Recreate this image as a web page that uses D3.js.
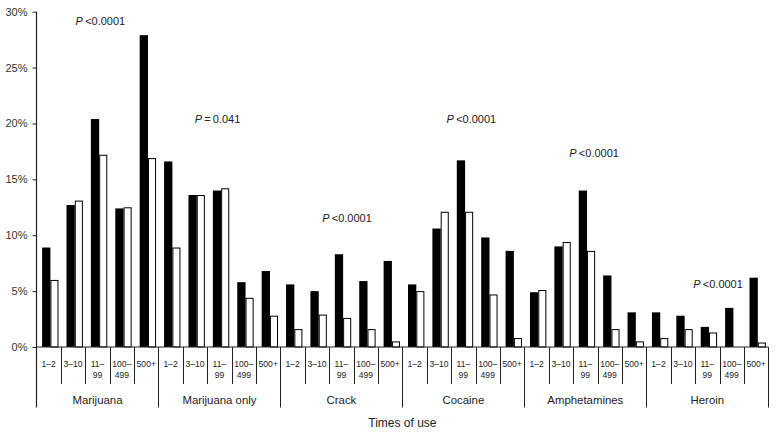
<!DOCTYPE html>
<html>
<head>
<meta charset="utf-8">
<script src="https://cdn.jsdelivr.net/npm/d3@7"></script>
<style>
  html, body { margin: 0; padding: 0; background: #fff; }
  svg { display: block; font-family: "Liberation Sans", Arial, Helvetica, sans-serif; }
</style>
</head>
<body>
<div id="chart"></div>
<script>
// ---------------- data ----------------
const drugs = ["Marijuana", "Marijuana only", "Crack", "Cocaine", "Amphetamines", "Heroin"];
const timesOfUse = ["1–2", "3–10", "11–99", "100–499", "500+"];
const tickLabelLines = [["1–2"], ["3–10"], ["11–", "99"], ["100–", "499"], ["500+"]];

// black bars (percent), 5 per drug in timesOfUse order
const blackValues = [
  8.9, 12.7, 20.4, 12.4, 27.9,
  16.6, 13.6, 14.0, 5.8, 6.8,
  5.6, 5.0, 8.3, 5.9, 7.7,
  5.6, 10.6, 16.7, 9.8, 8.6,
  4.9, 9.0, 14.0, 6.4, 3.1,
  3.1, 2.8, 1.8, 3.5, 6.2
];
// white bars (percent)
const whiteValues = [
  6.0, 13.1, 17.2, 12.5, 16.9,
  8.9, 13.6, 14.2, 4.4, 2.8,
  1.6, 2.9, 2.6, 1.6, 0.5,
  5.0, 12.1, 12.1, 4.7, 0.8,
  5.1, 9.4, 8.6, 1.6, 0.5,
  0.8, 1.6, 1.3, 0.0, 0.4
];
const yTicks = [0, 5, 10, 15, 20, 25, 30];
const pSymbols = ["<", "=", "<", "<", "<", "<"];
const pValues = ["0.0001", "0.041", "0.0001", "0.0001", "0.0001", "0.0001"];
const xTitle = "Times of use";

// annotation placement (cell units / percent units)
const pLabelX = [2.62, 7.42, 12.73, 17.83, 22.86, 27.94];
const pLabelY = [28.8, 20.0, 11.15, 20.0, 17.0, 5.28];

// ---------------- layout ----------------
const W = 776, H = 435;
const x0 = 36.5, x1 = 768.3;
const yTop = 11.7, yBase = 347;
const innerSepBottom = 384, groupSepBottom = 407.5;

const cells = [];
drugs.forEach((d, gi) => timesOfUse.forEach((t, ti) => {
  const i = gi * timesOfUse.length + ti;
  cells.push({ key: d + "|" + t, drug: d, gi, ti, black: blackValues[i], white: whiteValues[i] });
}));

const x = d3.scaleBand().domain(cells.map(c => c.key)).range([x0, x1]).paddingInner(0).paddingOuter(0);
const xc = d3.scaleLinear().domain([0, cells.length]).range([x0, x1]);
const y = d3.scaleLinear().domain([0, 30]).range([yBase, yTop]);

const svg = d3.select("#chart").append("svg").attr("width", W).attr("height", H);
const ink = "#222";

// bars
const bw = x.bandwidth();
const gBars = svg.append("g");
gBars.selectAll("rect.black").data(cells).join("rect")
  .attr("class", "black")
  .attr("x", d => x(d.key) + bw * 0.23)
  .attr("width", bw * 0.34)
  .attr("y", d => y(d.black))
  .attr("height", d => y(0) - y(d.black))
  .attr("fill", "#000");
gBars.selectAll("rect.white").data(cells.filter(d => d.white > 0)).join("rect")
  .attr("class", "white")
  .attr("x", d => x(d.key) + bw * 0.57 + 0.5)
  .attr("width", bw * 0.29)
  .attr("y", d => y(d.white) + 0.5)
  .attr("height", d => Math.max(0, y(0) - y(d.white) - 0.5))
  .attr("fill", "#fff")
  .attr("stroke", "#000")
  .attr("stroke-width", 1);

// y axis
const yAxis = d3.axisLeft(y).tickValues(yTicks).tickFormat(d => d + "%").tickSize(4).tickPadding(5);
const gy = svg.append("g").attr("transform", `translate(${x0},0)`).call(yAxis);
gy.select(".domain").remove();
gy.selectAll("line").attr("stroke", ink);
gy.selectAll("text").attr("font-size", 11).attr("fill", "#333")
  .attr("font-family", "'Liberation Sans', Arial, sans-serif");
svg.append("line").attr("x1", x0).attr("x2", x0).attr("y1", yTop).attr("y2", groupSepBottom)
  .attr("stroke", ink).attr("stroke-width", 1.2);

// baseline
svg.append("line").attr("x1", x0).attr("x2", x1).attr("y1", yBase).attr("y2", yBase)
  .attr("stroke", ink).attr("stroke-width", 1.2);

// separators
const boundaries = d3.range(1, cells.length + 1);
svg.append("g").selectAll("line").data(boundaries).join("line")
  .attr("x1", i => Math.round(xc(i)) + 0.5)
  .attr("x2", i => Math.round(xc(i)) + 0.5)
  .attr("y1", yBase)
  .attr("y2", i => (i % timesOfUse.length === 0) ? groupSepBottom : innerSepBottom)
  .attr("stroke", ink).attr("stroke-width", 1);

// tick labels
const gT = svg.append("g").attr("font-size", 8.6).attr("fill", "#222").attr("text-anchor", "middle");
cells.forEach(c => {
  const lines = tickLabelLines[c.ti];
  const t = gT.append("text").attr("x", x(c.key) + bw / 2).attr("y", 366.5);
  lines.forEach((ln, li) => {
    t.append("tspan").attr("x", x(c.key) + bw / 2).attr("dy", li === 0 ? 0 : 11.5).text(ln);
  });
});

// group labels
svg.append("g").selectAll("text").data(drugs).join("text")
  .attr("x", (d, i) => xc(i * 5 + 2.5))
  .attr("y", 404)
  .attr("text-anchor", "middle")
  .attr("font-size", 11.4)
  .attr("fill", "#222")
  .text(d => d);

// axis title
svg.append("text").attr("x", xc(15)).attr("y", 426.5)
  .attr("text-anchor", "middle").attr("font-size", 12).attr("fill", "#222").text(xTitle);

// P annotations
drugs.forEach((d, i) => {
  const t = svg.append("text")
    .attr("x", xc(pLabelX[i]))
    .attr("y", y(pLabelY[i]))
    .attr("text-anchor", "middle")
    .attr("font-size", 11)
    .attr("fill", "#222");
  t.append("tspan").attr("font-style", "italic").text("P");
  t.append("tspan").text((pSymbols[i] === "=" ? "\u2009=\u2009" : "\u2009<") + pValues[i]);
});
</script>
</body>
</html>
